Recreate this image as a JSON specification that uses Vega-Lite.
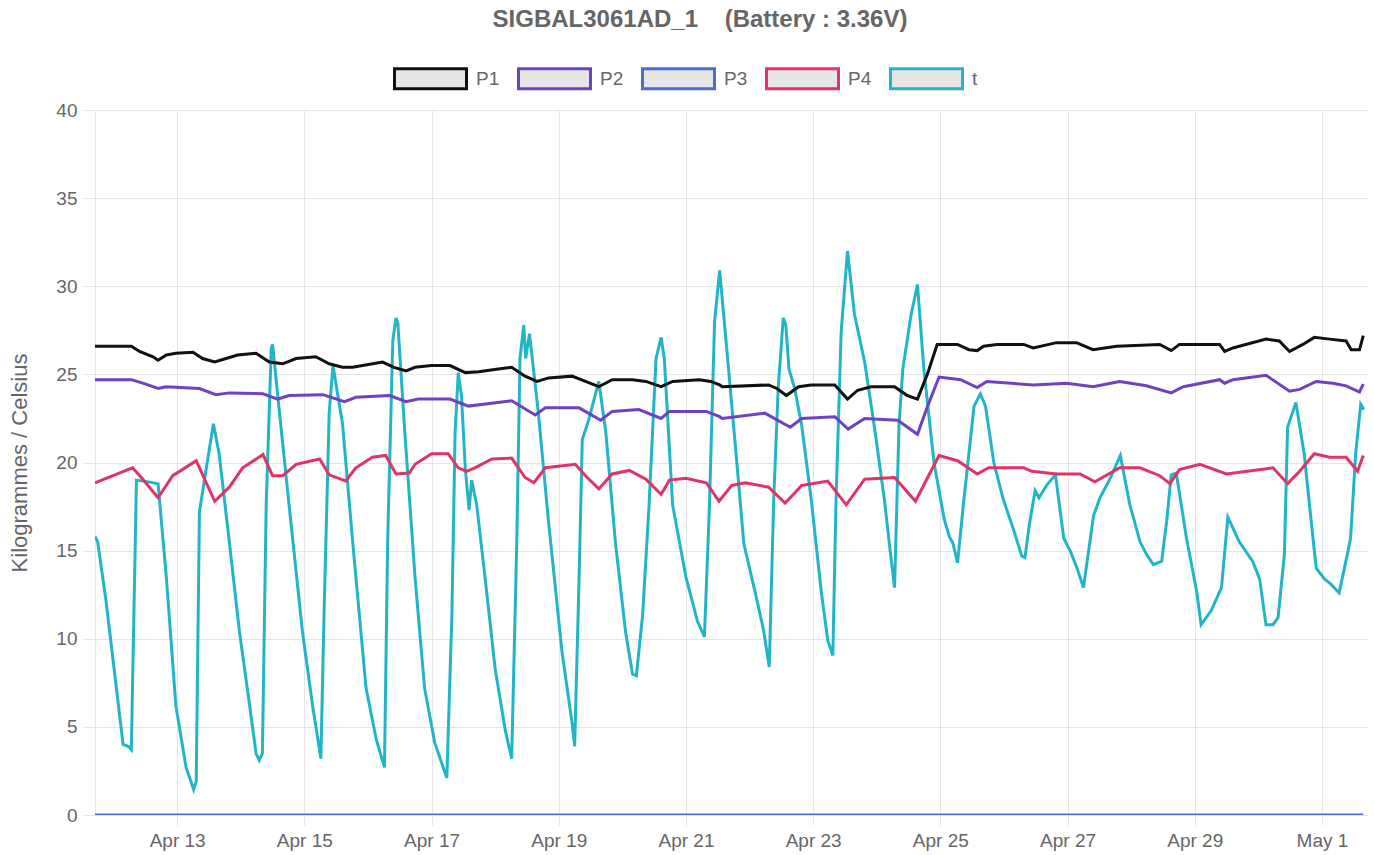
{
  "$schema": "https://vega.github.io/schema/vega-lite/v6.json",
  "width": 1272,
  "height": 705,
  "autosize": "none",
  "padding": {"left": 95, "top": 110, "right": 7, "bottom": 40},
  "background": "white",
  "config": {"font": "Liberation Sans", "view": {"stroke": null}},
  "title": {
    "text": "SIGBAL3061AD_1\u00a0\u00a0\u00a0\u00a0(Battery : 3.36V)",
    "fontSize": 24,
    "fontWeight": "bold",
    "color": "#666666",
    "anchor": "middle",
    "frame": "group",
    "offset": 25,
    "dx": -31
  },
  "data": {
    "values": [
      {"s": "t", "x": "2024-04-11T17:00", "y": 15.8},
      {"s": "t", "x": "2024-04-11T18:00", "y": 15.5},
      {"s": "t", "x": "2024-04-11T21:07", "y": 12.2},
      {"s": "t", "x": "2024-04-12T03:36", "y": 4.0},
      {"s": "t", "x": "2024-04-12T05:31", "y": 3.9},
      {"s": "t", "x": "2024-04-12T06:43", "y": 3.7},
      {"s": "t", "x": "2024-04-12T08:38", "y": 19.0},
      {"s": "t", "x": "2024-04-12T13:12", "y": 18.9},
      {"s": "t", "x": "2024-04-12T16:48", "y": 18.8},
      {"s": "t", "x": "2024-04-12T19:55", "y": 13.5},
      {"s": "t", "x": "2024-04-12T23:31", "y": 6.2},
      {"s": "t", "x": "2024-04-13T03:22", "y": 2.7},
      {"s": "t", "x": "2024-04-13T06:14", "y": 1.45},
      {"s": "t", "x": "2024-04-13T07:12", "y": 1.9},
      {"s": "t", "x": "2024-04-13T08:24", "y": 17.2},
      {"s": "t", "x": "2024-04-13T11:02", "y": 19.7},
      {"s": "t", "x": "2024-04-13T13:41", "y": 22.2},
      {"s": "t", "x": "2024-04-13T15:50", "y": 20.5},
      {"s": "t", "x": "2024-04-13T19:41", "y": 15.5},
      {"s": "t", "x": "2024-04-13T23:31", "y": 10.4},
      {"s": "t", "x": "2024-04-14T03:22", "y": 6.2},
      {"s": "t", "x": "2024-04-14T05:46", "y": 3.5},
      {"s": "t", "x": "2024-04-14T06:58", "y": 3.1},
      {"s": "t", "x": "2024-04-14T08:10", "y": 3.5},
      {"s": "t", "x": "2024-04-14T09:36", "y": 17.6},
      {"s": "t", "x": "2024-04-14T11:31", "y": 26.5},
      {"s": "t", "x": "2024-04-14T12:00", "y": 26.7},
      {"s": "t", "x": "2024-04-14T14:38", "y": 22.8},
      {"s": "t", "x": "2024-04-14T18:14", "y": 17.6},
      {"s": "t", "x": "2024-04-14T23:17", "y": 10.4},
      {"s": "t", "x": "2024-04-15T03:07", "y": 6.2},
      {"s": "t", "x": "2024-04-15T06:14", "y": 3.2},
      {"s": "t", "x": "2024-04-15T07:26", "y": 11.4},
      {"s": "t", "x": "2024-04-15T09:22", "y": 22.8},
      {"s": "t", "x": "2024-04-15T10:48", "y": 25.5},
      {"s": "t", "x": "2024-04-15T14:24", "y": 22.2},
      {"s": "t", "x": "2024-04-15T18:14", "y": 15.5},
      {"s": "t", "x": "2024-04-15T23:17", "y": 7.2},
      {"s": "t", "x": "2024-04-16T03:07", "y": 4.3},
      {"s": "t", "x": "2024-04-16T06:14", "y": 2.7},
      {"s": "t", "x": "2024-04-16T07:26", "y": 15.5},
      {"s": "t", "x": "2024-04-16T09:22", "y": 26.9},
      {"s": "t", "x": "2024-04-16T10:34", "y": 28.2},
      {"s": "t", "x": "2024-04-16T11:17", "y": 27.9},
      {"s": "t", "x": "2024-04-16T13:55", "y": 21.7},
      {"s": "t", "x": "2024-04-16T17:46", "y": 13.5},
      {"s": "t", "x": "2024-04-16T21:22", "y": 7.2},
      {"s": "t", "x": "2024-04-17T01:12", "y": 4.1},
      {"s": "t", "x": "2024-04-17T05:46", "y": 2.1},
      {"s": "t", "x": "2024-04-17T07:41", "y": 11.4},
      {"s": "t", "x": "2024-04-17T08:53", "y": 21.7},
      {"s": "t", "x": "2024-04-17T10:05", "y": 25.1},
      {"s": "t", "x": "2024-04-17T11:17", "y": 23.8},
      {"s": "t", "x": "2024-04-17T12:43", "y": 19.7},
      {"s": "t", "x": "2024-04-17T14:10", "y": 17.3},
      {"s": "t", "x": "2024-04-17T15:07", "y": 19.0},
      {"s": "t", "x": "2024-04-17T17:02", "y": 17.6},
      {"s": "t", "x": "2024-04-17T20:10", "y": 13.5},
      {"s": "t", "x": "2024-04-18T00:00", "y": 8.3},
      {"s": "t", "x": "2024-04-18T03:50", "y": 4.8},
      {"s": "t", "x": "2024-04-18T06:14", "y": 3.2},
      {"s": "t", "x": "2024-04-18T08:10", "y": 15.5},
      {"s": "t", "x": "2024-04-18T09:22", "y": 25.9},
      {"s": "t", "x": "2024-04-18T10:48", "y": 27.8},
      {"s": "t", "x": "2024-04-18T11:31", "y": 25.9},
      {"s": "t", "x": "2024-04-18T12:58", "y": 27.3},
      {"s": "t", "x": "2024-04-18T16:19", "y": 22.8},
      {"s": "t", "x": "2024-04-18T20:10", "y": 16.6},
      {"s": "t", "x": "2024-04-19T01:12", "y": 9.3},
      {"s": "t", "x": "2024-04-19T05:02", "y": 5.2},
      {"s": "t", "x": "2024-04-19T06:00", "y": 3.9},
      {"s": "t", "x": "2024-04-19T07:41", "y": 13.5},
      {"s": "t", "x": "2024-04-19T08:53", "y": 21.3},
      {"s": "t", "x": "2024-04-19T11:17", "y": 22.4},
      {"s": "t", "x": "2024-04-19T15:07", "y": 24.6},
      {"s": "t", "x": "2024-04-19T17:46", "y": 21.7},
      {"s": "t", "x": "2024-04-19T21:22", "y": 15.5},
      {"s": "t", "x": "2024-04-20T01:12", "y": 10.4},
      {"s": "t", "x": "2024-04-20T03:50", "y": 8.0},
      {"s": "t", "x": "2024-04-20T05:17", "y": 7.9},
      {"s": "t", "x": "2024-04-20T07:41", "y": 11.4},
      {"s": "t", "x": "2024-04-20T10:05", "y": 17.6},
      {"s": "t", "x": "2024-04-20T12:43", "y": 25.9},
      {"s": "t", "x": "2024-04-20T14:38", "y": 27.1},
      {"s": "t", "x": "2024-04-20T15:50", "y": 25.9},
      {"s": "t", "x": "2024-04-20T18:58", "y": 17.6},
      {"s": "t", "x": "2024-04-21T00:00", "y": 13.5},
      {"s": "t", "x": "2024-04-21T04:19", "y": 11.0},
      {"s": "t", "x": "2024-04-21T06:58", "y": 10.1},
      {"s": "t", "x": "2024-04-21T08:53", "y": 17.6},
      {"s": "t", "x": "2024-04-21T10:48", "y": 28.0},
      {"s": "t", "x": "2024-04-21T12:43", "y": 30.9},
      {"s": "t", "x": "2024-04-21T16:05", "y": 25.3},
      {"s": "t", "x": "2024-04-21T19:12", "y": 20.0},
      {"s": "t", "x": "2024-04-21T21:50", "y": 15.4},
      {"s": "t", "x": "2024-04-22T02:10", "y": 12.6},
      {"s": "t", "x": "2024-04-22T05:17", "y": 10.5},
      {"s": "t", "x": "2024-04-22T07:26", "y": 8.4},
      {"s": "t", "x": "2024-04-22T09:07", "y": 17.9},
      {"s": "t", "x": "2024-04-22T10:48", "y": 24.2},
      {"s": "t", "x": "2024-04-22T12:43", "y": 28.2},
      {"s": "t", "x": "2024-04-22T13:41", "y": 27.8},
      {"s": "t", "x": "2024-04-22T14:53", "y": 25.3},
      {"s": "t", "x": "2024-04-22T17:02", "y": 24.2},
      {"s": "t", "x": "2024-04-22T19:41", "y": 22.1},
      {"s": "t", "x": "2024-04-22T23:17", "y": 17.9},
      {"s": "t", "x": "2024-04-23T03:07", "y": 12.6},
      {"s": "t", "x": "2024-04-23T05:31", "y": 9.9},
      {"s": "t", "x": "2024-04-23T07:26", "y": 9.05},
      {"s": "t", "x": "2024-04-23T08:38", "y": 17.9},
      {"s": "t", "x": "2024-04-23T10:34", "y": 27.4},
      {"s": "t", "x": "2024-04-23T12:58", "y": 32.0},
      {"s": "t", "x": "2024-04-23T15:36", "y": 28.4},
      {"s": "t", "x": "2024-04-23T19:26", "y": 25.7},
      {"s": "t", "x": "2024-04-23T23:02", "y": 22.1},
      {"s": "t", "x": "2024-04-24T02:53", "y": 17.9},
      {"s": "t", "x": "2024-04-24T05:17", "y": 14.7},
      {"s": "t", "x": "2024-04-24T06:43", "y": 12.9},
      {"s": "t", "x": "2024-04-24T08:24", "y": 22.1},
      {"s": "t", "x": "2024-04-24T09:50", "y": 25.3},
      {"s": "t", "x": "2024-04-24T12:58", "y": 28.4},
      {"s": "t", "x": "2024-04-24T15:22", "y": 30.1},
      {"s": "t", "x": "2024-04-24T17:46", "y": 25.3},
      {"s": "t", "x": "2024-04-24T21:36", "y": 20.0},
      {"s": "t", "x": "2024-04-25T01:26", "y": 16.8},
      {"s": "t", "x": "2024-04-25T03:22", "y": 15.8},
      {"s": "t", "x": "2024-04-25T04:48", "y": 15.4},
      {"s": "t", "x": "2024-04-25T06:29", "y": 14.3},
      {"s": "t", "x": "2024-04-25T08:53", "y": 17.9},
      {"s": "t", "x": "2024-04-25T12:43", "y": 23.2},
      {"s": "t", "x": "2024-04-25T15:07", "y": 23.9},
      {"s": "t", "x": "2024-04-25T17:02", "y": 23.2},
      {"s": "t", "x": "2024-04-25T20:10", "y": 20.0},
      {"s": "t", "x": "2024-04-25T23:46", "y": 17.9},
      {"s": "t", "x": "2024-04-26T03:36", "y": 16.2},
      {"s": "t", "x": "2024-04-26T06:43", "y": 14.7},
      {"s": "t", "x": "2024-04-26T07:55", "y": 14.6},
      {"s": "t", "x": "2024-04-26T09:36", "y": 16.5},
      {"s": "t", "x": "2024-04-26T11:46", "y": 18.4},
      {"s": "t", "x": "2024-04-26T13:12", "y": 18.0},
      {"s": "t", "x": "2024-04-26T16:19", "y": 18.75},
      {"s": "t", "x": "2024-04-26T19:26", "y": 19.3},
      {"s": "t", "x": "2024-04-26T22:34", "y": 15.7},
      {"s": "t", "x": "2024-04-27T00:58", "y": 15.0},
      {"s": "t", "x": "2024-04-27T03:36", "y": 14.0},
      {"s": "t", "x": "2024-04-27T06:00", "y": 12.9},
      {"s": "t", "x": "2024-04-27T09:50", "y": 17.0},
      {"s": "t", "x": "2024-04-27T12:14", "y": 18.0},
      {"s": "t", "x": "2024-04-27T16:05", "y": 19.1},
      {"s": "t", "x": "2024-04-27T19:55", "y": 20.4},
      {"s": "t", "x": "2024-04-27T23:31", "y": 17.6},
      {"s": "t", "x": "2024-04-28T03:22", "y": 15.5},
      {"s": "t", "x": "2024-04-28T05:46", "y": 14.8},
      {"s": "t", "x": "2024-04-28T08:24", "y": 14.2},
      {"s": "t", "x": "2024-04-28T11:31", "y": 14.4},
      {"s": "t", "x": "2024-04-28T13:26", "y": 16.7},
      {"s": "t", "x": "2024-04-28T15:07", "y": 19.3},
      {"s": "t", "x": "2024-04-28T17:02", "y": 19.4},
      {"s": "t", "x": "2024-04-28T20:53", "y": 15.7},
      {"s": "t", "x": "2024-04-29T00:43", "y": 12.7},
      {"s": "t", "x": "2024-04-29T02:24", "y": 10.8},
      {"s": "t", "x": "2024-04-29T06:14", "y": 11.6},
      {"s": "t", "x": "2024-04-29T10:05", "y": 12.9},
      {"s": "t", "x": "2024-04-29T12:29", "y": 16.9},
      {"s": "t", "x": "2024-04-29T16:48", "y": 15.5},
      {"s": "t", "x": "2024-04-29T21:50", "y": 14.4},
      {"s": "t", "x": "2024-04-30T00:29", "y": 13.4},
      {"s": "t", "x": "2024-04-30T02:53", "y": 10.8},
      {"s": "t", "x": "2024-04-30T05:31", "y": 10.8},
      {"s": "t", "x": "2024-04-30T07:26", "y": 11.2},
      {"s": "t", "x": "2024-04-30T09:50", "y": 14.8},
      {"s": "t", "x": "2024-04-30T11:02", "y": 22.0},
      {"s": "t", "x": "2024-04-30T14:10", "y": 23.4},
      {"s": "t", "x": "2024-04-30T17:17", "y": 20.5},
      {"s": "t", "x": "2024-04-30T19:55", "y": 16.7},
      {"s": "t", "x": "2024-04-30T21:50", "y": 14.0},
      {"s": "t", "x": "2024-05-01T00:58", "y": 13.4},
      {"s": "t", "x": "2024-05-01T03:22", "y": 13.1},
      {"s": "t", "x": "2024-05-01T06:29", "y": 12.6},
      {"s": "t", "x": "2024-05-01T09:36", "y": 14.8},
      {"s": "t", "x": "2024-05-01T10:48", "y": 15.7},
      {"s": "t", "x": "2024-05-01T12:43", "y": 20.5},
      {"s": "t", "x": "2024-05-01T14:38", "y": 23.3},
      {"s": "t", "x": "2024-05-01T15:50", "y": 23.0},

      {"s": "P3", "x": "2024-04-11T17:00", "y": 0},
      {"s": "P3", "x": "2024-04-21T12:00", "y": 0},
      {"s": "P3", "x": "2024-05-01T15:36", "y": 0},

      {"s": "P4", "x": "2024-04-11T17:00", "y": 18.85},
      {"s": "P4", "x": "2024-04-11T23:46", "y": 19.25},
      {"s": "P4", "x": "2024-04-12T07:12", "y": 19.7},
      {"s": "P4", "x": "2024-04-12T11:02", "y": 19.05},
      {"s": "P4", "x": "2024-04-12T16:48", "y": 18.0},
      {"s": "P4", "x": "2024-04-12T22:19", "y": 19.25},
      {"s": "P4", "x": "2024-04-13T07:12", "y": 20.1},
      {"s": "P4", "x": "2024-04-13T14:10", "y": 17.8},
      {"s": "P4", "x": "2024-04-13T19:41", "y": 18.6},
      {"s": "P4", "x": "2024-04-14T00:43", "y": 19.7},
      {"s": "P4", "x": "2024-04-14T08:24", "y": 20.45},
      {"s": "P4", "x": "2024-04-14T12:00", "y": 19.25},
      {"s": "P4", "x": "2024-04-14T15:50", "y": 19.25},
      {"s": "P4", "x": "2024-04-14T20:53", "y": 19.9},
      {"s": "P4", "x": "2024-04-15T05:46", "y": 20.2},
      {"s": "P4", "x": "2024-04-15T09:22", "y": 19.3},
      {"s": "P4", "x": "2024-04-15T15:36", "y": 18.95},
      {"s": "P4", "x": "2024-04-15T19:26", "y": 19.7},
      {"s": "P4", "x": "2024-04-16T01:41", "y": 20.3},
      {"s": "P4", "x": "2024-04-16T06:43", "y": 20.4},
      {"s": "P4", "x": "2024-04-16T10:34", "y": 19.35},
      {"s": "P4", "x": "2024-04-16T15:36", "y": 19.4},
      {"s": "P4", "x": "2024-04-16T17:46", "y": 19.9},
      {"s": "P4", "x": "2024-04-17T00:00", "y": 20.5},
      {"s": "P4", "x": "2024-04-17T06:14", "y": 20.5},
      {"s": "P4", "x": "2024-04-17T10:05", "y": 19.7},
      {"s": "P4", "x": "2024-04-17T13:12", "y": 19.5},
      {"s": "P4", "x": "2024-04-17T16:19", "y": 19.7},
      {"s": "P4", "x": "2024-04-17T22:48", "y": 20.2},
      {"s": "P4", "x": "2024-04-18T06:14", "y": 20.25},
      {"s": "P4", "x": "2024-04-18T11:17", "y": 19.15},
      {"s": "P4", "x": "2024-04-18T14:38", "y": 18.85},
      {"s": "P4", "x": "2024-04-18T18:58", "y": 19.7},
      {"s": "P4", "x": "2024-04-19T06:14", "y": 19.9},
      {"s": "P4", "x": "2024-04-19T10:05", "y": 19.25},
      {"s": "P4", "x": "2024-04-19T15:07", "y": 18.5},
      {"s": "P4", "x": "2024-04-19T20:10", "y": 19.35},
      {"s": "P4", "x": "2024-04-20T02:38", "y": 19.55},
      {"s": "P4", "x": "2024-04-20T08:53", "y": 19.05},
      {"s": "P4", "x": "2024-04-20T14:38", "y": 18.2},
      {"s": "P4", "x": "2024-04-20T17:46", "y": 19.0},
      {"s": "P4", "x": "2024-04-21T00:00", "y": 19.1},
      {"s": "P4", "x": "2024-04-21T07:41", "y": 18.85},
      {"s": "P4", "x": "2024-04-21T12:29", "y": 17.8},
      {"s": "P4", "x": "2024-04-21T17:17", "y": 18.7},
      {"s": "P4", "x": "2024-04-21T22:19", "y": 18.85},
      {"s": "P4", "x": "2024-04-22T07:12", "y": 18.6},
      {"s": "P4", "x": "2024-04-22T13:26", "y": 17.7},
      {"s": "P4", "x": "2024-04-22T19:41", "y": 18.7},
      {"s": "P4", "x": "2024-04-23T05:31", "y": 18.95},
      {"s": "P4", "x": "2024-04-23T12:29", "y": 17.6},
      {"s": "P4", "x": "2024-04-23T19:26", "y": 19.05},
      {"s": "P4", "x": "2024-04-24T06:43", "y": 19.15},
      {"s": "P4", "x": "2024-04-24T14:38", "y": 17.8},
      {"s": "P4", "x": "2024-04-24T19:12", "y": 19.15},
      {"s": "P4", "x": "2024-04-24T23:31", "y": 20.4},
      {"s": "P4", "x": "2024-04-25T06:29", "y": 20.1},
      {"s": "P4", "x": "2024-04-25T13:55", "y": 19.35},
      {"s": "P4", "x": "2024-04-25T18:14", "y": 19.7},
      {"s": "P4", "x": "2024-04-26T07:26", "y": 19.7},
      {"s": "P4", "x": "2024-04-26T10:34", "y": 19.5},
      {"s": "P4", "x": "2024-04-26T19:55", "y": 19.35},
      {"s": "P4", "x": "2024-04-27T04:48", "y": 19.35},
      {"s": "P4", "x": "2024-04-27T10:19", "y": 18.9},
      {"s": "P4", "x": "2024-04-27T19:41", "y": 19.7},
      {"s": "P4", "x": "2024-04-28T03:22", "y": 19.7},
      {"s": "P4", "x": "2024-04-28T10:48", "y": 19.25},
      {"s": "P4", "x": "2024-04-28T14:38", "y": 18.8},
      {"s": "P4", "x": "2024-04-28T18:14", "y": 19.6},
      {"s": "P4", "x": "2024-04-29T01:55", "y": 19.9},
      {"s": "P4", "x": "2024-04-29T12:00", "y": 19.35},
      {"s": "P4", "x": "2024-04-30T05:31", "y": 19.7},
      {"s": "P4", "x": "2024-04-30T11:02", "y": 18.8},
      {"s": "P4", "x": "2024-04-30T15:36", "y": 19.5},
      {"s": "P4", "x": "2024-04-30T21:07", "y": 20.5},
      {"s": "P4", "x": "2024-05-01T02:53", "y": 20.3},
      {"s": "P4", "x": "2024-05-01T09:07", "y": 20.3},
      {"s": "P4", "x": "2024-05-01T13:26", "y": 19.5},
      {"s": "P4", "x": "2024-05-01T15:36", "y": 20.4},

      {"s": "P2", "x": "2024-04-11T17:00", "y": 24.7},
      {"s": "P2", "x": "2024-04-12T06:43", "y": 24.7},
      {"s": "P2", "x": "2024-04-12T11:02", "y": 24.5},
      {"s": "P2", "x": "2024-04-12T16:48", "y": 24.2},
      {"s": "P2", "x": "2024-04-12T19:55", "y": 24.3},
      {"s": "P2", "x": "2024-04-13T08:24", "y": 24.2},
      {"s": "P2", "x": "2024-04-13T14:38", "y": 23.85},
      {"s": "P2", "x": "2024-04-13T19:41", "y": 23.95},
      {"s": "P2", "x": "2024-04-14T08:24", "y": 23.9},
      {"s": "P2", "x": "2024-04-14T13:55", "y": 23.6},
      {"s": "P2", "x": "2024-04-14T18:14", "y": 23.8},
      {"s": "P2", "x": "2024-04-15T06:58", "y": 23.85},
      {"s": "P2", "x": "2024-04-15T15:07", "y": 23.45},
      {"s": "P2", "x": "2024-04-15T19:26", "y": 23.7},
      {"s": "P2", "x": "2024-04-16T08:10", "y": 23.8},
      {"s": "P2", "x": "2024-04-16T14:24", "y": 23.45},
      {"s": "P2", "x": "2024-04-16T18:58", "y": 23.6},
      {"s": "P2", "x": "2024-04-17T06:58", "y": 23.6},
      {"s": "P2", "x": "2024-04-17T13:55", "y": 23.2},
      {"s": "P2", "x": "2024-04-18T06:14", "y": 23.5},
      {"s": "P2", "x": "2024-04-18T15:07", "y": 22.7},
      {"s": "P2", "x": "2024-04-18T18:58", "y": 23.1},
      {"s": "P2", "x": "2024-04-19T07:41", "y": 23.1},
      {"s": "P2", "x": "2024-04-19T15:50", "y": 22.4},
      {"s": "P2", "x": "2024-04-19T20:10", "y": 22.9},
      {"s": "P2", "x": "2024-04-20T06:14", "y": 23.0},
      {"s": "P2", "x": "2024-04-20T14:38", "y": 22.5},
      {"s": "P2", "x": "2024-04-20T17:46", "y": 22.9},
      {"s": "P2", "x": "2024-04-21T07:41", "y": 22.9},
      {"s": "P2", "x": "2024-04-21T12:43", "y": 22.6},
      {"s": "P2", "x": "2024-04-21T13:41", "y": 22.5},
      {"s": "P2", "x": "2024-04-22T05:46", "y": 22.8},
      {"s": "P2", "x": "2024-04-22T15:22", "y": 22.0},
      {"s": "P2", "x": "2024-04-22T19:41", "y": 22.5},
      {"s": "P2", "x": "2024-04-23T08:10", "y": 22.6},
      {"s": "P2", "x": "2024-04-23T13:12", "y": 21.9},
      {"s": "P2", "x": "2024-04-23T19:26", "y": 22.5},
      {"s": "P2", "x": "2024-04-24T07:55", "y": 22.4},
      {"s": "P2", "x": "2024-04-24T15:22", "y": 21.6},
      {"s": "P2", "x": "2024-04-24T19:12", "y": 23.2},
      {"s": "P2", "x": "2024-04-24T23:31", "y": 24.85},
      {"s": "P2", "x": "2024-04-25T07:41", "y": 24.7},
      {"s": "P2", "x": "2024-04-25T13:55", "y": 24.25},
      {"s": "P2", "x": "2024-04-25T17:31", "y": 24.6},
      {"s": "P2", "x": "2024-04-26T11:02", "y": 24.4},
      {"s": "P2", "x": "2024-04-26T23:46", "y": 24.5},
      {"s": "P2", "x": "2024-04-27T09:36", "y": 24.3},
      {"s": "P2", "x": "2024-04-27T19:41", "y": 24.6},
      {"s": "P2", "x": "2024-04-28T05:46", "y": 24.35},
      {"s": "P2", "x": "2024-04-28T15:07", "y": 23.95},
      {"s": "P2", "x": "2024-04-28T19:41", "y": 24.3},
      {"s": "P2", "x": "2024-04-29T09:22", "y": 24.7},
      {"s": "P2", "x": "2024-04-29T11:17", "y": 24.5},
      {"s": "P2", "x": "2024-04-29T14:24", "y": 24.7},
      {"s": "P2", "x": "2024-04-30T02:53", "y": 24.95},
      {"s": "P2", "x": "2024-04-30T11:46", "y": 24.05},
      {"s": "P2", "x": "2024-04-30T15:36", "y": 24.15},
      {"s": "P2", "x": "2024-04-30T21:50", "y": 24.6},
      {"s": "P2", "x": "2024-05-01T04:05", "y": 24.5},
      {"s": "P2", "x": "2024-05-01T09:07", "y": 24.35},
      {"s": "P2", "x": "2024-05-01T14:10", "y": 24.0},
      {"s": "P2", "x": "2024-05-01T15:36", "y": 24.45},

      {"s": "P1", "x": "2024-04-11T17:00", "y": 26.6},
      {"s": "P1", "x": "2024-04-12T06:43", "y": 26.6},
      {"s": "P1", "x": "2024-04-12T09:50", "y": 26.3},
      {"s": "P1", "x": "2024-04-12T14:53", "y": 26.0},
      {"s": "P1", "x": "2024-04-12T16:48", "y": 25.8},
      {"s": "P1", "x": "2024-04-12T19:55", "y": 26.1},
      {"s": "P1", "x": "2024-04-12T23:31", "y": 26.2},
      {"s": "P1", "x": "2024-04-13T06:00", "y": 26.25},
      {"s": "P1", "x": "2024-04-13T09:36", "y": 25.9},
      {"s": "P1", "x": "2024-04-13T14:10", "y": 25.7},
      {"s": "P1", "x": "2024-04-13T18:29", "y": 25.9},
      {"s": "P1", "x": "2024-04-13T22:48", "y": 26.1},
      {"s": "P1", "x": "2024-04-14T05:46", "y": 26.2},
      {"s": "P1", "x": "2024-04-14T10:48", "y": 25.7},
      {"s": "P1", "x": "2024-04-14T15:50", "y": 25.6},
      {"s": "P1", "x": "2024-04-14T20:53", "y": 25.9},
      {"s": "P1", "x": "2024-04-15T04:19", "y": 26.0},
      {"s": "P1", "x": "2024-04-15T09:22", "y": 25.6},
      {"s": "P1", "x": "2024-04-15T14:24", "y": 25.4},
      {"s": "P1", "x": "2024-04-15T18:14", "y": 25.4},
      {"s": "P1", "x": "2024-04-16T05:31", "y": 25.7},
      {"s": "P1", "x": "2024-04-16T09:50", "y": 25.4},
      {"s": "P1", "x": "2024-04-16T14:24", "y": 25.2},
      {"s": "P1", "x": "2024-04-16T17:46", "y": 25.4},
      {"s": "P1", "x": "2024-04-17T00:00", "y": 25.5},
      {"s": "P1", "x": "2024-04-17T06:58", "y": 25.5},
      {"s": "P1", "x": "2024-04-17T12:43", "y": 25.1},
      {"s": "P1", "x": "2024-04-17T17:46", "y": 25.15},
      {"s": "P1", "x": "2024-04-18T01:12", "y": 25.3},
      {"s": "P1", "x": "2024-04-18T06:14", "y": 25.4},
      {"s": "P1", "x": "2024-04-18T11:17", "y": 24.9},
      {"s": "P1", "x": "2024-04-18T15:50", "y": 24.6},
      {"s": "P1", "x": "2024-04-18T20:10", "y": 24.8},
      {"s": "P1", "x": "2024-04-19T05:02", "y": 24.9},
      {"s": "P1", "x": "2024-04-19T10:05", "y": 24.6},
      {"s": "P1", "x": "2024-04-19T15:07", "y": 24.3},
      {"s": "P1", "x": "2024-04-19T20:10", "y": 24.7},
      {"s": "P1", "x": "2024-04-20T03:50", "y": 24.7},
      {"s": "P1", "x": "2024-04-20T08:53", "y": 24.6},
      {"s": "P1", "x": "2024-04-20T14:38", "y": 24.3},
      {"s": "P1", "x": "2024-04-20T18:58", "y": 24.6},
      {"s": "P1", "x": "2024-04-21T05:02", "y": 24.7},
      {"s": "P1", "x": "2024-04-21T09:22", "y": 24.6},
      {"s": "P1", "x": "2024-04-21T12:43", "y": 24.4},
      {"s": "P1", "x": "2024-04-21T13:41", "y": 24.3},
      {"s": "P1", "x": "2024-04-22T07:12", "y": 24.4},
      {"s": "P1", "x": "2024-04-22T10:19", "y": 24.2},
      {"s": "P1", "x": "2024-04-22T13:55", "y": 23.8},
      {"s": "P1", "x": "2024-04-22T18:29", "y": 24.3},
      {"s": "P1", "x": "2024-04-22T23:17", "y": 24.4},
      {"s": "P1", "x": "2024-04-23T08:10", "y": 24.4},
      {"s": "P1", "x": "2024-04-23T12:58", "y": 23.6},
      {"s": "P1", "x": "2024-04-23T16:48", "y": 24.1},
      {"s": "P1", "x": "2024-04-23T21:50", "y": 24.3},
      {"s": "P1", "x": "2024-04-24T06:43", "y": 24.3},
      {"s": "P1", "x": "2024-04-24T11:31", "y": 23.8},
      {"s": "P1", "x": "2024-04-24T15:22", "y": 23.6},
      {"s": "P1", "x": "2024-04-24T19:12", "y": 25.05},
      {"s": "P1", "x": "2024-04-24T22:48", "y": 26.7},
      {"s": "P1", "x": "2024-04-25T06:29", "y": 26.7},
      {"s": "P1", "x": "2024-04-25T10:48", "y": 26.4},
      {"s": "P1", "x": "2024-04-25T13:55", "y": 26.35},
      {"s": "P1", "x": "2024-04-25T16:19", "y": 26.6},
      {"s": "P1", "x": "2024-04-25T21:22", "y": 26.7},
      {"s": "P1", "x": "2024-04-26T07:26", "y": 26.7},
      {"s": "P1", "x": "2024-04-26T11:02", "y": 26.5},
      {"s": "P1", "x": "2024-04-26T19:55", "y": 26.8},
      {"s": "P1", "x": "2024-04-27T03:22", "y": 26.8},
      {"s": "P1", "x": "2024-04-27T09:36", "y": 26.4},
      {"s": "P1", "x": "2024-04-27T18:29", "y": 26.6},
      {"s": "P1", "x": "2024-04-28T10:48", "y": 26.7},
      {"s": "P1", "x": "2024-04-28T15:07", "y": 26.35},
      {"s": "P1", "x": "2024-04-28T18:14", "y": 26.7},
      {"s": "P1", "x": "2024-04-29T09:22", "y": 26.7},
      {"s": "P1", "x": "2024-04-29T11:17", "y": 26.3},
      {"s": "P1", "x": "2024-04-29T14:24", "y": 26.5},
      {"s": "P1", "x": "2024-04-30T02:53", "y": 27.0},
      {"s": "P1", "x": "2024-04-30T07:55", "y": 26.9},
      {"s": "P1", "x": "2024-04-30T11:46", "y": 26.3},
      {"s": "P1", "x": "2024-04-30T16:48", "y": 26.7},
      {"s": "P1", "x": "2024-04-30T21:07", "y": 27.1},
      {"s": "P1", "x": "2024-05-01T02:53", "y": 27.0},
      {"s": "P1", "x": "2024-05-01T09:07", "y": 26.9},
      {"s": "P1", "x": "2024-05-01T11:02", "y": 26.4},
      {"s": "P1", "x": "2024-05-01T14:10", "y": 26.4},
      {"s": "P1", "x": "2024-05-01T15:36", "y": 27.2}
    ]
  },
  "mark": {"type": "line", "strokeWidth": 3, "clip": true},
  "encoding": {
    "x": {
      "field": "x",
      "type": "temporal",
      "scale": {
        "domain": [
          {"year": 2024, "month": 4, "date": 11, "hours": 17},
          {"year": 2024, "month": 5, "date": 1, "hours": 17}
        ]
      },
      "axis": {
        "title": null,
        "format": "%b %-d",
        "tickCount": {"interval": "day", "step": 2},
        "labelFontSize": 19,
        "labelColor": "#666666",
        "labelFlush": false,
        "labelPadding": 6,
        "tickSize": 10,
        "tickColor": "#e5e5e5",
        "gridColor": "#e5e5e5",
        "domainColor": "#e5e5e5"
      }
    },
    "y": {
      "field": "y",
      "type": "quantitative",
      "scale": {"domain": [0, 40]},
      "axis": {
        "title": "Kilogrammes  / Celsius",
        "titleFontSize": 22,
        "titleFontWeight": "normal",
        "titleColor": "#666666",
        "titlePadding": 24,
        "values": [0, 5, 10, 15, 20, 25, 30, 35, 40],
        "labelFontSize": 19,
        "labelColor": "#666666",
        "labelPadding": 6,
        "tickSize": 12,
        "tickColor": "#e5e5e5",
        "gridColor": "#e5e5e5",
        "domainColor": "#e5e5e5"
      }
    },
    "color": {
      "field": "s",
      "type": "nominal",
      "scale": {
        "domain": ["P1", "P2", "P3", "P4", "t"],
        "range": ["#111111", "#6f42c1", "#4a6cd4", "#e03366", "#22b5c8"]
      },
      "legend": {
        "title": null,
        "orient": "none",
        "direction": "horizontal",
        "legendX": 314,
        "legendY": -53,
        "padding": 0,
        "symbolType": "M-1.8,-0.5H1.8V0.5H-1.8Z",
        "symbolSize": 1600,
        "symbolStrokeWidth": 3,
        "labelFontSize": 19,
        "labelColor": "#666666",
        "labelOffset": 24,
        "columnPadding": 12,
        "encode": {
          "symbols": {"update": {"fill": {"value": "#e6e6e6"}, "strokeWidth": {"value": 3}, "opacity": {"value": 1}}}
        }
      }
    }
  }
}
